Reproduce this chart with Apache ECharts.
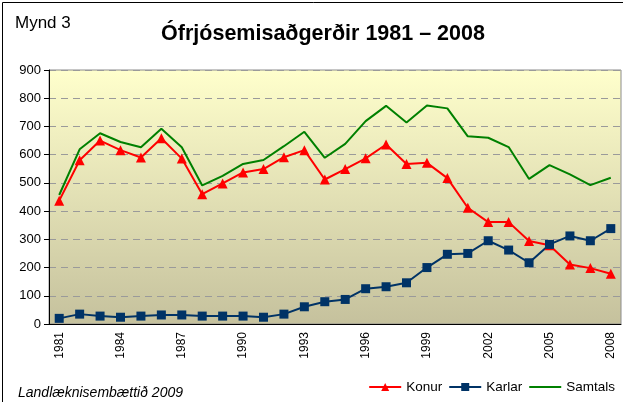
<!DOCTYPE html>
<html>
<head>
<meta charset="utf-8">
<script src="https://cdn.jsdelivr.net/npm/echarts@6/dist/echarts.min.js"></script>
<style>
html, body { margin: 0; padding: 0; background: #fff; }
#chart { width: 623px; height: 402px; }
</style>
</head>
<body>
<div id="chart"></div>
<script>
// ár
const years = ['1981','1982','1983','1984','1985','1986','1987','1988','1989','1990',
  '1991','1992','1993','1994','1995','1996','1997','1998','1999','2000',
  '2001','2002','2003','2004','2005','2006','2007','2008']
const konur = [437, 580, 650, 616, 590, 658, 586, 460, 498, 537,
  549, 591, 616, 512, 549, 587, 636, 567, 571, 517,
  412, 361, 361, 294, 279, 211, 198, 178]
const karlar = [20, 35, 28, 24, 28, 32, 32, 28, 28, 28,
  24, 35, 61, 79, 87, 125, 132, 146, 200, 247,
  250, 295, 262, 217, 282, 312, 295, 338]
const samtals = [457, 619, 676, 645, 626, 692, 626, 491, 525, 567,
  581, 630, 681, 589, 638, 719, 773, 714, 774, 764,
  665, 660, 627, 514, 563, 530, 492, 518]
const yMax = 900
const yStep = 100

const font = '"Liberation Sans", Arial, sans-serif'
const chart = echarts.init(document.getElementById('chart'))

chart.setOption({
  animation: false,
  textStyle: { fontFamily: font },
  title: [
    {
      text: 'Ófrjósemisaðgerðir 1981 – 2008',
      left: 318, top: 18, textAlign: 'center',
      textStyle: { fontSize: 21.5, fontWeight: 'bold', color: '#000', fontFamily: font }
    },
    {
      text: 'Mynd 3',
      left: 10, top: 10,
      textStyle: { fontSize: 17, fontWeight: 'normal', color: '#000', fontFamily: font }
    },
    {
      text: 'Landlæknisembættið 2009',
      left: 13, top: 381,
      textStyle: { fontSize: 14, fontWeight: 'normal', fontStyle: 'italic', color: '#000', fontFamily: font }
    }
  ],
  graphic: [
    {
      type: 'rect', silent: true,
      shape: { x: 2.5, y: 2.5, width: 640, height: 420 },
      style: { fill: 'none', stroke: '#000', lineWidth: 1 }
    }
  ],
  legend: {
    right: 3, top: 375,
    itemWidth: 32, itemHeight: 10, itemGap: 6,
    textStyle: { fontSize: 13.5, color: '#000', fontFamily: font },
    data: ['Konur', 'Karlar', { name: 'Samtals', itemStyle: { opacity: 0 } }]
  },
  grid: {
    left: 49, right: 2, top: 70, bottom: 78,
    show: true,
    borderColor: '#8c8c8c', borderWidth: 1,
    backgroundColor: {
      type: 'linear', x: 0, y: 0, x2: 0, y2: 1,
      colorStops: [{ offset: 0, color: '#FFFFCC' }, { offset: 1, color: '#C5C19D' }]
    }
  },
  xAxis: {
    type: 'category',
    data: years,
    boundaryGap: true,
    axisLine: { lineStyle: { color: '#000', width: 1 } },
    axisTick: { interval: 0, length: 5, lineStyle: { color: '#000' } },
    axisLabel: { interval: 2, rotate: 90, fontSize: 12, color: '#000', margin: 8, fontFamily: font },
    splitLine: { show: false }
  },
  yAxis: {
    type: 'value',
    min: 0, max: yMax, interval: yStep,
    axisLine: { show: true, lineStyle: { color: '#000', width: 1 } },
    axisTick: { show: true, length: 5, lineStyle: { color: '#000' } },
    axisLabel: { fontSize: 13, color: '#000', margin: 8, fontFamily: font },
    splitLine: { lineStyle: { color: '#9a9a9a', type: [7, 5], width: 1 } }
  },
  series: [
    {
      name: 'Konur', type: 'line', data: konur,
      symbol: 'triangle', symbolSize: 10,
      itemStyle: { color: '#FF0000' },
      lineStyle: { color: '#FF0000', width: 2 },
      z: 3
    },
    {
      name: 'Karlar', type: 'line', data: karlar,
      symbol: 'rect', symbolSize: 9,
      itemStyle: { color: '#003366' },
      lineStyle: { color: '#003366', width: 2 },
      z: 3
    },
    {
      name: 'Samtals', type: 'line', data: samtals,
      symbol: 'none',
      itemStyle: { color: '#008000' },
      lineStyle: { color: '#008000', width: 2 },
      z: 2
    }
  ]
})
</script>
</body>
</html>
